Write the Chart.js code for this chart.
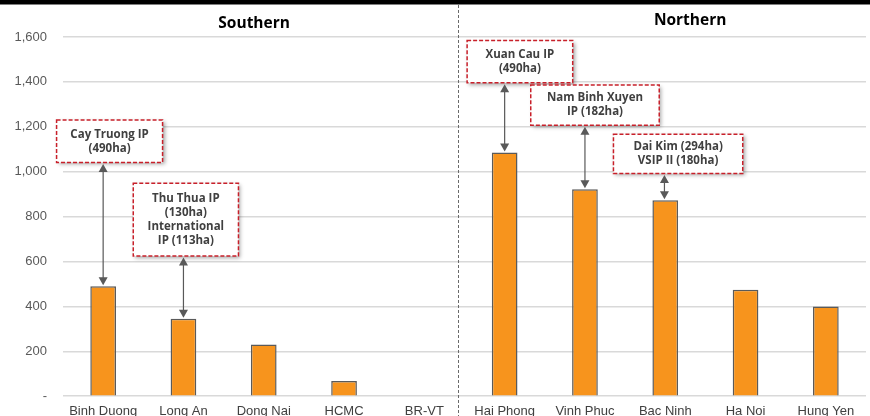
<!DOCTYPE html>
<html>
<head>
<meta charset="utf-8">
<script src="https://cdn.jsdelivr.net/npm/chart.js@4.4.1/dist/chart.umd.min.js"></script>
<style>
  html, body { margin: 0; padding: 0; background: #ffffff; overflow: hidden; }
  #wrap { width: 870px; height: 420px; position: relative; }
</style>
</head>
<body>
<div id="wrap"><canvas id="chart" width="870" height="420"></canvas></div>
<script>
// Industrial land area by province (ha)
const provinces = ['Binh Duong', 'Long An', 'Dong Nai', 'HCMC', 'BR-VT',
                   'Hai Phong', 'Vinh Phuc', 'Bac Ninh', 'Ha Noi', 'Hung Yen'];
const areaHa = [490, 345, 230, 68, 0, 1085, 922, 873, 474, 399];
const yTicks = [0, 200, 400, 600, 800, 1000, 1200, 1400, 1600];
const regionTitles = ['Southern', 'Northern'];

// Callout texts and the province each one points at
const calloutLines = [
  ['Cay Truong IP', '(490ha)'],
  ['Thu Thua IP', '(130ha)', 'International', 'IP (113ha)'],
  ['Xuan Cau IP', '(490ha)'],
  ['Nam Binh Xuyen', 'IP (182ha)'],
  ['Dai Kim (294ha)', 'VSIP II (180ha)']
];
const calloutTarget = [0, 1, 5, 6, 7];

// Callout box layout (x in category units, y in axis units)
const calloutLayout = [
  { cx: 0.08, w: 1.32, top: 1230, bottom: 1041, ax: 0.0 },
  { cx: 1.03, w: 1.31, top: 948, bottom: 624, ax: 0.0 },
  { cx: 5.19, w: 1.315, top: 1584, bottom: 1396, ax: 0.0 },
  { cx: 6.125, w: 1.6, top: 1386, bottom: 1207, ax: 0.0 },
  { cx: 7.16, w: 1.61, top: 1167, bottom: 992, ax: -0.01 }
];

function arrowHead(ctx, x, y, dir) {
  // dir = -1 pointing up, 1 pointing down; (x, y) is the tip
  ctx.beginPath();
  ctx.moveTo(x, y);
  ctx.lineTo(x - 4.5, y - dir * 8);
  ctx.lineTo(x + 4.5, y - dir * 8);
  ctx.closePath();
  ctx.fill();
}

const decorPlugin = {
  id: 'decor',
  afterDatasetsDraw(chart) {
    const { ctx, scales: { x, y } } = chart;
    const step = x.getPixelForValue(1) - x.getPixelForValue(0);
    const W = chart.width;

    ctx.save();
    // heavy rule across the top
    ctx.fillStyle = '#000000';
    ctx.fillRect(0, 0, W, 4.5);

    // dashed divider between the two regions
    const dx = Math.round(x.getPixelForValue(4) + 0.42 * step) + 0.5;
    ctx.strokeStyle = '#6a6a6a';
    ctx.lineWidth = 1;
    ctx.setLineDash([3, 2]);
    ctx.beginPath();
    ctx.moveTo(dx, 5);
    ctx.lineTo(dx, chart.height);
    ctx.stroke();
    ctx.setLineDash([]);

    // region titles
    ctx.fillStyle = '#000000';
    ctx.font = 'bold 15.5px "Open Sans", sans-serif';
    ctx.textAlign = 'center';
    ctx.textBaseline = 'middle';
    ctx.fillText(regionTitles[0], x.getPixelForValue(0) + 1.88 * step, 24);
    ctx.fillText(regionTitles[1], x.getPixelForValue(0) + 7.31 * step, 21);

    // callouts
    calloutLines.forEach((lines, i) => {
      const L = calloutLayout[i];
      const t = calloutTarget[i];
      const cx = x.getPixelForValue(0) + L.cx * step;
      const bw = L.w * step;
      const top = y.getPixelForValue(L.top);
      const bot = y.getPixelForValue(L.bottom);
      const left = cx - bw / 2;

      // box with soft shadow
      ctx.save();
      ctx.shadowColor = 'rgba(0,0,0,0.35)';
      ctx.shadowBlur = 4;
      ctx.shadowOffsetX = 2;
      ctx.shadowOffsetY = 2;
      ctx.fillStyle = '#ffffff';
      ctx.fillRect(left, top, bw, bot - top);
      ctx.restore();

      ctx.strokeStyle = '#c8202a';
      ctx.lineWidth = 1.5;
      ctx.setLineDash([4, 2]);
      ctx.strokeRect(left, top, bw, bot - top);
      ctx.setLineDash([]);

      ctx.fillStyle = '#404040';
      ctx.font = 'bold 11.5px "Open Sans", sans-serif';
      ctx.textAlign = 'center';
      ctx.textBaseline = 'middle';
      const lh = 14;
      const mid = (top + bot) / 2;
      lines.forEach((s, k) => {
        ctx.fillText(s, cx, mid + (k - (lines.length - 1) / 2) * lh);
      });

      // double-headed arrow from box to bar top
      const ax = x.getPixelForValue(t) + L.ax * step;
      const y0 = bot + 1.5;
      const y1 = y.getPixelForValue(areaHa[t]) - 1;
      ctx.strokeStyle = '#595959';
      ctx.fillStyle = '#595959';
      ctx.lineWidth = 1.2;
      ctx.beginPath();
      ctx.moveTo(ax, y0 + 6);
      ctx.lineTo(ax, y1 - 6);
      ctx.stroke();
      arrowHead(ctx, ax, y0, -1);
      arrowHead(ctx, ax, y1, 1);
    });
    ctx.restore();
  }
};

new Chart(document.getElementById('chart'), {
  type: 'bar',
  data: {
    labels: provinces,
    datasets: [{
      data: areaHa,
      backgroundColor: '#f7941d',
      borderColor: '#5a5a5a',
      borderWidth: 1.5,
      borderSkipped: 'bottom',
      categoryPercentage: 1,
      barPercentage: 0.32
    }]
  },
  options: {
    responsive: false,
    animation: false,
    devicePixelRatio: 1,
    layout: { padding: { top: 37, right: 4, left: 0, bottom: 0 } },
    plugins: { legend: { display: false }, tooltip: { enabled: false } },
    scales: {
      x: {
        afterFit(scale) { scale.height = 22; },
        grid: { display: false, drawTicks: false },
        border: { display: false },
        ticks: {
          color: '#404040',
          font: { family: '"Liberation Sans", Arial, sans-serif', size: 13 },
          padding: 7,
          maxRotation: 0,
          autoSkip: false
        }
      },
      y: {
        min: 0,
        max: 1600,
        afterFit(scale) { scale.width = 63; },
        afterBuildTicks(scale) { scale.ticks = yTicks.map(v => ({ value: v })); },
        grid: { color: '#d9d9d9', lineWidth: 1.5, drawTicks: false },
        border: { display: false },
        ticks: {
          color: '#595959',
          font: { family: '"Liberation Sans", Arial, sans-serif', size: 13 },
          padding: 16,
          callback: v => v === 0 ? '-' : v.toLocaleString('en-US')
        }
      }
    }
  },
  plugins: [decorPlugin]
});
</script>
</body>
</html>
